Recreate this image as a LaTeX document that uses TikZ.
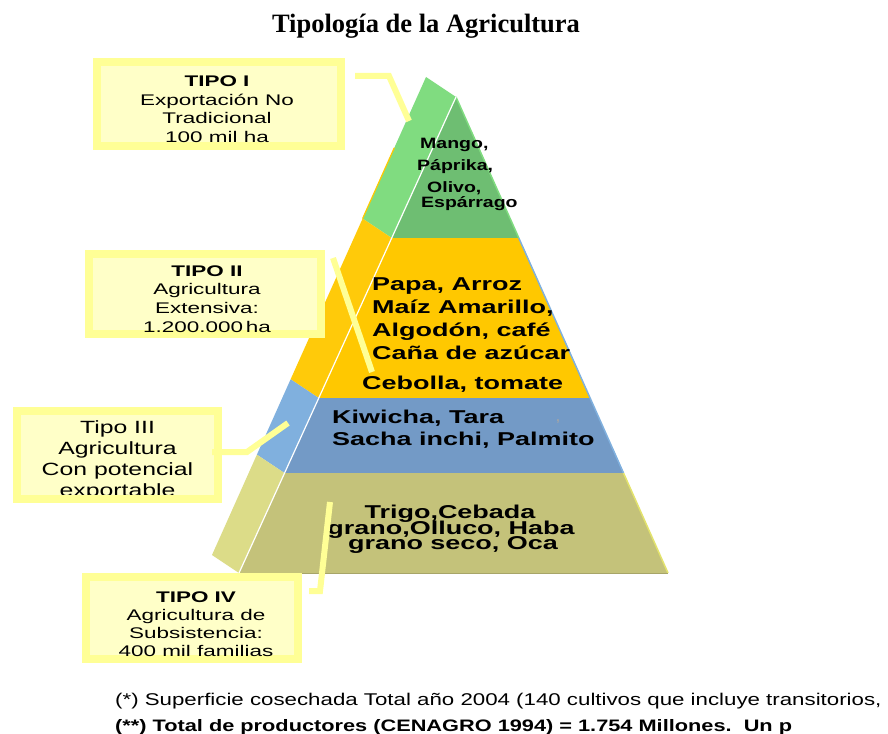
\documentclass[tikz,border=0pt]{standalone}
\usepackage{fontspec}
\usetikzlibrary{calc}
\setmainfont{Liberation Sans}
\newfontfamily\boxfont[FakeStretch=1.46]{Liberation Sans}
\newfontfamily\boxfontc[FakeStretch=1.4]{Liberation Sans}
\newfontfamily\pyrfont[FakeStretch=1.45]{Liberation Sans}
\newfontfamily\grnfont[FakeStretch=1.3]{Liberation Sans}
\newfontfamily\notefont[FakeStretch=1.31]{Liberation Sans}
\newfontfamily\titlefont{Liberation Serif}
\newcommand\mlines[1]{\begin{tabular}[t]{@{}c@{}}#1\end{tabular}}
\newcommand\llines[1]{\begin{tabular}[t]{@{}l@{}}#1\end{tabular}}
\definecolor{grnF}{RGB}{110,190,114}
\definecolor{grnS}{RGB}{128,220,128}
\definecolor{yelF}{RGB}{255,200,0}
\definecolor{yelS}{RGB}{255,202,10}
\definecolor{bluF}{RGB}{115,154,198}
\definecolor{bluS}{RGB}{128,176,222}
\definecolor{oliF}{RGB}{196,194,122}
\definecolor{oliS}{RGB}{220,220,136}
\definecolor{boxline}{RGB}{255,255,150}
\definecolor{boxin}{RGB}{255,255,200}
\tikzset{
  boxbody/.style={fill=boxin, draw=none, inner sep=0pt, outer sep=0pt},
  boxedge/.style={draw=boxline, line width=8pt},
  conn/.style={draw=boxline, line width=6pt},
  boxtxt/.style={anchor=base, inner sep=0pt, font=\boxfont\fontsize{15.4}{18.5}\selectfont},
  pyrtxt/.style={anchor=base west, inner sep=0pt, font=\pyrfont\bfseries\fontsize{18.6}{23}\selectfont},
  olitxt/.style={anchor=base, inner sep=0pt, font=\pyrfont\bfseries\fontsize{18.6}{23}\selectfont},
  grntxt/.style={anchor=base west, inner sep=0pt, font=\grnfont\bfseries\fontsize{15}{18}\selectfont},
  notetxt/.style={anchor=base west, inner sep=0pt, font=\notefont\fontsize{17}{20}\selectfont},
}
\begin{document}
\begin{tikzpicture}[x=1pt,y=-1pt]
\useasboundingbox (0,0) rectangle (888,733);
% title
\node[anchor=base, inner sep=0pt, font=\titlefont\bfseries\fontsize{26.5}{30}\selectfont] (title) at (426,33) {Tipología de la Agricultura};
% pyramid coordinates
\coordinate (F0) at (456,97);
\coordinate (F1l) at (391.7,238);
\coordinate (F1r) at (518.8,238);
\coordinate (F2l) at (318.7,398);
\coordinate (F2r) at (590.1,398);
\coordinate (F3l) at (284.5,473);
\coordinate (F3r) at (623.5,473);
\coordinate (F4l) at (239,573);
\coordinate (F4r) at (668,573);
\coordinate (S0) at (426,77);
\coordinate (S1) at (362.6,218.6);
\coordinate (S2) at (290.6,379.3);
\coordinate (S3) at (256.9,454.6);
\coordinate (S4) at (212,555);
% side faces
\fill[grnS] (S0) -- (F0) -- (F1l) -- (S1) -- cycle;
\fill[yelS] (S1) -- (F1l) -- (F2l) -- (S2) -- cycle;
\fill[bluS] (S2) -- (F2l) -- (F3l) -- (S3) -- cycle;
\fill[oliS] (S3) -- (F3l) -- (F4l) -- (S4) -- cycle;
\draw[yelF, line width=1.2pt] ($(S0)!0.5!(S1)$) -- (S1);
% front faces
\fill[grnF] (F0) -- (F1r) -- (F1l) -- cycle;
\fill[yelF] (F1l) -- (F1r) -- (F2r) -- (F2l) -- cycle;
\fill[bluF] (F2l) -- (F2r) -- (F3r) -- (F3l) -- cycle;
\fill[oliF] (F3l) -- (F3r) -- (F4r) -- (F4l) -- cycle;
% edges
\draw[grnS, line width=1.5pt] (F0) -- (F1r);
\draw[bluS, line width=1.5pt] (F1r) -- (F2r);
\draw[bluS, line width=1.5pt] (F2r) -- (F3r);
\draw[oliS!80!yellow, line width=1.5pt] (F3r) -- (F4r);
\draw[oliF!85!black, line width=0.8pt] (F4l) -- (F4r);
\draw[white, line width=1.2pt] (F0) -- (F4l);
% pyramid texts
\node[grntxt] (t1a) at (420,148) {Mango,};
\node[grntxt] (t1b) at (417,170) {Páprika,};
\node[grntxt] (t1c) at (427,192) {Olivo,};
\node[grntxt] (t1d) at (421,207) {Espárrago};
\node[pyrtxt] (t2a) at (372,290) {\llines{Papa, Arroz\\Maíz Amarillo,\\Algodón, café\\Caña de azúcar}};
\node[pyrtxt] (t2b) at (362,389) {Cebolla, tomate};
\node[pyrtxt, font=\pyrfont\bfseries\fontsize{18.6}{22}\selectfont] (t3) at (332,423) {\llines{Kiwicha, Tara\\Sacha inchi, Palmito}};
\node[anchor=base, inner sep=0pt, text=gray!70, font=\bfseries\fontsize{12}{14}\selectfont] (t3c) at (558,421) {,};
\node[olitxt] (t4a) at (450,518) {Trigo,Cebada};
\node[olitxt] (t4b) at (451,534) {grano,Olluco, Haba};
\node[olitxt] (t4c) at (453,549) {grano seco, Oca};
% boxes
\node[boxbody, minimum width=244pt, minimum height=84pt] (b1) at (219,104) {};
\draw[boxedge] (b1.south west) rectangle (b1.north east);
\node[boxtxt] (b1t) at (217,87) {\mlines{\bfseries TIPO I\\Exportación No\\Tradicional\\100 mil ha}};
\node[boxbody, minimum width=232pt, minimum height=80pt] (b2) at (205,294) {};
\draw[boxedge] (b2.south west) rectangle (b2.north east);
\node[boxtxt, font=\boxfont\fontsize{15.4}{18.7}\selectfont] (b2t) at (207,276) {\mlines{\bfseries TIPO II\\Agricultura\\Extensiva:\\1.200.000\,ha}};
\node[boxbody, minimum width=201pt, minimum height=88pt] (b3) at (117.5,455) {};
\begin{scope}
\clip (0,400) rectangle (230,496);
\node[boxtxt, font=\boxfontc\fontsize{17.7}{21.3}\selectfont] (b3t) at (117.5,433) {\mlines{Tipo III\\Agricultura\\Con potencial\\exportable}};
\end{scope}
\draw[boxedge] (b3.south west) rectangle (b3.north east);
\node[boxbody, minimum width=212pt, minimum height=82pt] (b4) at (192,618) {};
\draw[boxedge] (b4.south west) rectangle (b4.north east);
\node[boxtxt, font=\boxfont\fontsize{15.4}{18.3}\selectfont] (b4t) at (196,602) {\mlines{\bfseries TIPO IV\\Agricultura de\\Subsistencia:\\400 mil familias}};
% connectors
\coordinate (c1a) at (355,76);
\coordinate (c1b) at (409,121);
\draw[conn] (c1a) -- (389,76) -- (c1b);
\coordinate (c2a) at (333,258);
\coordinate (c2b) at (372,372);
\draw[conn] (c2a) -- (c2b);
\coordinate (c3a) at (212,452);
\coordinate (c3b) at (288,423);
\draw[conn] (c3a) -- (247,452) -- (c3b);
\coordinate (c4a) at (330,502);
\coordinate (c4b) at (309,591);
\draw[conn] (c4a) -- (320,591) -- (c4b);
% footnotes
\node[notetxt] (n1) at (115,705) {(*) Superficie cosechada Total año 2004 (140 cultivos que incluye transitorios,};
\node[notetxt, font=\notefont\bfseries\fontsize{16.6}{20}\selectfont] (n2) at (115,731) {(**) Total de productores (CENAGRO 1994) = 1.754 Millones.\ \ Un p};
\end{tikzpicture}
\end{document}
